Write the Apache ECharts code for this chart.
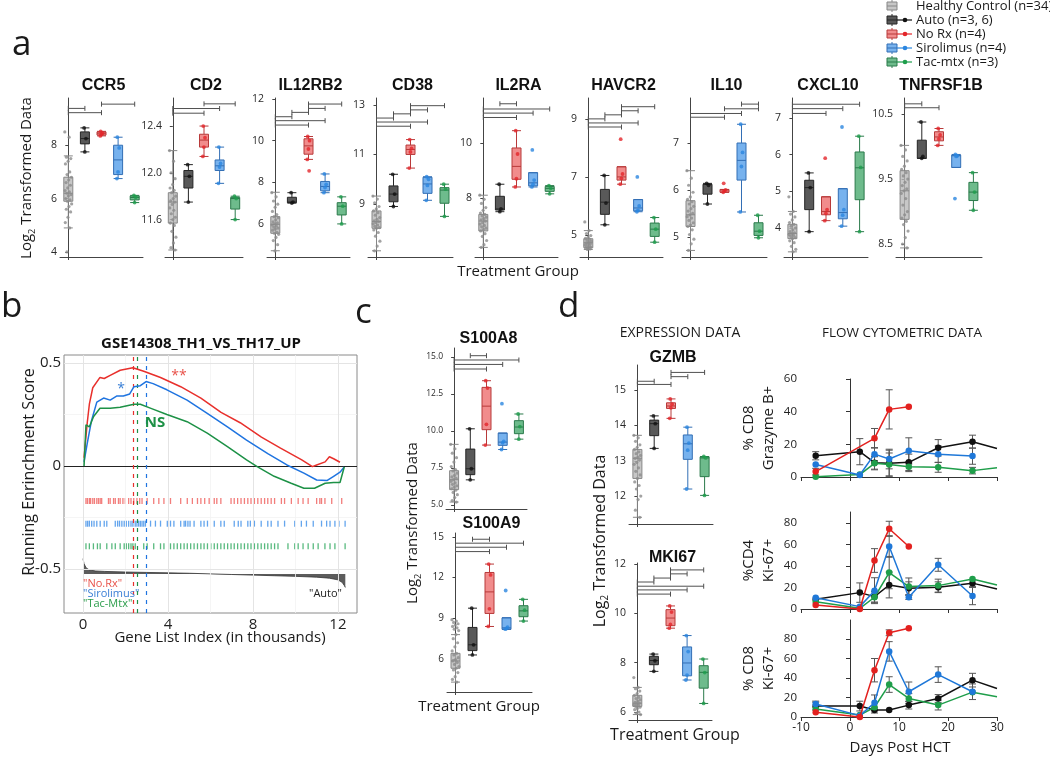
<!DOCTYPE html>
<html><head><meta charset="utf-8">
<script src="https://cdn.jsdelivr.net/npm/echarts@6/dist/echarts.min.js"></script>
<style>html,body{margin:0;padding:0;background:#fff}#c{width:1050px;height:757px}</style>
</head><body><div id="c"></div>
<script>
// ---------------- DATA ----------------
const groups = ['Healthy Control','Auto','No Rx','Sirolimus','Tac-mtx'];
const legendNames = ['Healthy Control (n=34)','Auto (n=3, 6)','No Rx (n=4)','Sirolimus (n=4)','Tac-mtx (n=3)'];

// box stats [min,Q1,median,Q3,max] per group; healthy points; other groups' points; significance brackets [from,to,y]
const ccr5Box = [[4.9,5.9,6.2,6.8,7.6],[7.75,8.05,8.25,8.5,8.65],[8.35,8.38,8.45,8.5,8.52],[6.75,6.9,7.45,8.0,8.3],[5.85,5.95,6.04,6.1,6.12]];
const ccr5Healthy = [8.5,8.3,7.55,7.5,7.4,7.3,7.0,6.9,6.8,6.7,6.6,6.5,6.4,6.3,6.25,6.2,6.15,6.1,6.0,5.95,5.9,5.8,5.7,5.6,5.5,5.3,5.1,4.9,4.0];
const ccr5Others = [[8.65,8.25,7.75],[8.52,8.45,8.4,8.35],[8.3,7.9,7.0,6.75],[6.12,6.05,5.85]];
const ccr5Sig = [[0,1,9.38],[0,2,9.22],[2,4,9.54]];
const ccr5Ticks = [4,6,8];

const cd2Box = [[11.34,11.57,11.75,11.83,12.19],[11.75,11.87,11.97,12.02,12.07],[12.14,12.22,12.28,12.33,12.4],[11.91,12.02,12.06,12.11,12.22],[11.6,11.69,11.78,11.79,11.8]];
const cd2Healthy = [12.19,12.1,12.0,11.95,11.9,11.87,11.85,11.83,11.8,11.78,11.76,11.75,11.73,11.7,11.68,11.65,11.62,11.6,11.57,11.55,11.5,11.45,11.4,11.36,11.34];
const cd2Others = [[12.07,11.97,11.75],[12.4,12.3,12.22,12.14],[12.22,12.08,12.05,11.91],[11.8,11.78,11.6]];
const cd2Sig = [[0,2,12.51],[0,3,12.55],[2,4,12.59]];
const cd2Ticks = [11.6,12.0,12.4];

const il12rb2Box = [[4.71,5.55,5.98,6.35,7.52],[7.0,7.02,7.05,7.28,7.5],[9.1,9.35,9.75,10.09,10.2],[7.5,7.59,7.8,8.04,8.4],[6.0,6.43,6.85,7.02,7.3]];
const il12rb2Healthy = [7.5,7.3,7.1,6.95,6.8,6.6,6.45,6.35,6.3,6.2,6.1,6.05,6.0,5.95,5.9,5.85,5.8,5.75,5.7,5.6,5.55,5.5,5.35,5.2,5.0,4.7];
const il12rb2Others = [[7.5,7.05,7.0],[10.2,10.0,9.6,9.1,8.55],[8.4,7.9,7.75,7.5],[7.3,6.85,6.0]];
const il12rb2Sig = [[2,4,11.76],[2,3,11.55],[1,2,11.36],[0,1,11.15],[0,3,10.96],[0,2,10.75]];
const il12rb2Ticks = [6,8,10,12];

const cd38Box = [[7.11,8.02,8.29,8.72,9.32],[8.9,9.09,9.4,9.73,10.2],[10.45,11.0,11.2,11.38,11.6],[9.15,9.43,9.81,10.08,10.1],[8.5,9.03,9.56,9.66,9.8]];
const cd38Healthy = [9.32,9.2,9.05,8.9,8.8,8.72,8.65,8.55,8.45,8.38,8.32,8.29,8.25,8.2,8.15,8.1,8.05,8.02,7.95,7.85,7.7,7.5,7.3,7.11];
const cd38Others = [[10.2,9.4,8.9],[11.6,11.25,11.1,10.45],[10.1,10.0,9.75,9.15],[9.8,9.6,8.5]];
const cd38Sig = [[2,4,12.97],[2,3,12.8],[1,2,12.64],[0,1,12.47],[0,3,12.31],[0,2,12.14]];
const cd38Ticks = [9,11,13];

const il2raBox = [[6.2,6.8,7.16,7.4,8.1],[7.5,7.56,7.6,8.06,8.5],[8.4,8.68,9.15,9.82,10.45],[8.4,8.44,8.55,8.92,8.92],[8.15,8.24,8.35,8.42,8.45]];
const il2raHealthy = [8.1,7.95,7.8,7.65,7.55,7.45,7.4,7.35,7.3,7.25,7.2,7.16,7.1,7.05,7.0,6.95,6.9,6.85,6.8,6.7,6.6,6.45,6.3,6.2];
const il2raOthers = [[8.5,7.6,7.5],[10.45,9.6,8.7,8.4],[9.75,8.65,8.5,8.4],[8.45,8.35,8.15]];
const il2raSig = [[1,2,11.43],[0,4,11.24],[0,3,11.09],[0,2,10.93]];
const il2raTicks = [8,10];

const havcr2Box = [[4.5,4.56,4.73,4.87,5.15],[5.35,5.71,6.13,6.57,7.05],[6.75,6.89,7.0,7.35,7.35],[5.8,5.83,5.93,6.22,6.22],[4.75,4.95,5.2,5.41,5.6]];
const havcr2Healthy = [5.45,5.15,5.05,4.98,4.92,4.88,4.85,4.82,4.78,4.75,4.73,4.7,4.68,4.65,4.62,4.6,4.58,4.56,4.54,4.52,4.5];
const havcr2Others = [[7.05,6.1,5.35],[8.3,7.1,6.95,6.75],[7.0,6.0,5.85,5.8],[5.6,5.2,4.75]];
const havcr2Sig = [[2,4,9.42],[2,3,9.28],[1,2,9.14],[0,1,9.0],[0,3,8.86],[0,2,8.72]];
const havcr2Ticks = [5,7,9];

const il10Box = [[4.71,5.22,5.47,5.77,6.41],[5.7,5.91,6.12,6.12,6.14],[5.95,5.95,6.0,6.01,6.01],[5.53,6.21,6.63,7.0,7.4],[4.98,5.03,5.12,5.3,5.46]];
const il10Healthy = [6.41,6.25,6.1,5.95,5.85,5.8,5.75,5.7,5.65,5.6,5.55,5.5,5.47,5.43,5.4,5.35,5.3,5.25,5.22,5.15,5.05,4.95,4.85,4.71];
const il10Others = [[6.14,6.1,5.7],[6.14,6.0,5.98,5.95],[7.4,6.8,6.5,5.53],[5.46,5.12,4.98]];
const il10Sig = [[3,4,7.83],[2,4,7.73],[0,3,7.63],[0,2,7.55]];
const il10Ticks = [5,6,7];

const cxcl10Box = [[3.35,3.71,3.85,4.1,4.45],[3.9,4.5,5.1,5.3,5.5],[4.2,4.36,4.45,4.85,4.85],[4.05,4.25,4.42,5.07,5.07],[3.9,4.77,5.64,6.07,6.5]];
const cxcl10Healthy = [4.85,4.45,4.38,4.3,4.22,4.15,4.1,4.05,4.0,3.95,3.9,3.87,3.85,3.82,3.8,3.77,3.74,3.71,3.65,3.6,3.5,3.42,3.35];
const cxcl10Others = [[5.5,5.1,3.9],[5.9,4.5,4.4,4.2],[6.75,4.5,4.35,4.05],[6.5,5.65,3.9]];
const cxcl10Sig = [[0,4,7.37],[0,3,7.25],[0,2,7.12]];
const cxcl10Ticks = [4,5,6,7];

const tnfBox = [[8.44,8.88,9.32,9.63,10.02],[9.82,9.82,9.82,10.1,10.38],[10.02,10.09,10.15,10.23,10.28],[9.68,9.68,9.86,9.87,9.88],[9.02,9.17,9.3,9.45,9.6]];
const tnfHealthy = [10.02,9.95,9.85,9.78,9.7,9.65,9.6,9.55,9.5,9.45,9.4,9.35,9.32,9.28,9.2,9.1,9.0,8.95,8.9,8.85,8.8,8.7,8.6,8.5,8.44];
const tnfOthers = [[10.38,9.85,9.82],[10.28,10.18,10.12,10.02],[9.88,9.86,9.85,9.2],[9.6,9.3,9.02]];
const tnfSig = [[0,1,10.66],[0,2,10.6]];
const tnfTicks = [8.5,9.5,10.5];

const s100a8Box = [[5.2,6.04,6.71,7.32,9.1],[6.7,7.05,7.45,8.78,10.15],[9.05,10.09,11.68,12.95,13.4],[8.75,9.03,9.25,9.86,9.86],[9.45,9.82,10.27,10.7,11.15]];
const s100a8Healthy = [9.1,8.8,8.5,8.2,7.9,7.6,7.4,7.3,7.15,7.0,6.9,6.8,6.71,6.6,6.5,6.4,6.3,6.2,6.1,6.0,5.85,5.7,5.5,5.3,5.2];
const s100a8Others = [[10.15,7.45,6.7],[13.4,12.9,10.45,9.05],[11.85,9.3,9.2,8.75],[11.15,10.3,9.45]];
const s100a8Sig = [[1,2,15.09],[0,4,14.8],[0,3,14.5],[0,2,14.19]];
const s100a8Ticks = [5,7.5,10,12.5,15];

const s100a9Box = [[4.3,5.32,5.86,6.42,7.8],[6.3,6.62,7.05,8.33,9.75],[8.4,9.36,10.95,12.38,13.0],[8.19,8.19,8.3,9.04,9.04],[8.8,9.12,9.55,9.93,10.4]];
const s100a9Healthy = [8.9,8.8,8.7,8.6,8.5,8.4,8.3,8.2,8.1,7.8,7.5,7.2,6.9,6.6,6.42,6.3,6.1,5.95,5.86,5.75,5.6,5.45,5.32,5.2,5.0,4.7,4.5,4.3];
const s100a9Others = [[9.75,7.05,6.3],[13.0,12.2,9.7,8.4],[11.05,8.35,8.25,8.2],[10.4,9.6,8.8]];
const s100a9Sig = [[1,2,14.83],[0,4,14.54],[0,3,14.24],[0,2,13.92]];
const s100a9Ticks = [6,9,12,15];

const gzmbBox = [[11.4,12.5,13.07,13.32,13.72],[13.35,13.71,14.05,14.15,14.27],[14.2,14.48,14.55,14.64,14.75],[12.2,13.04,13.48,13.73,13.95],[12.02,12.55,13.08,13.11,13.12]];
const gzmbHealthy = [13.72,13.65,13.55,13.45,13.38,13.32,13.25,13.2,13.15,13.1,13.07,13.02,12.95,12.9,12.8,12.7,12.6,12.5,12.4,12.3,12.2,12.0,11.9,11.6,11.4];
const gzmbOthers = [[14.27,14.05,13.35],[14.75,14.6,14.5,14.2],[13.95,13.5,13.3,12.2],[13.12,13.08,12.02]];
const gzmbSig = [[2,4,15.5],[2,3,15.38],[0,1,15.25],[0,2,15.16]];
const gzmbTicks = [12,13,14,15];

const mki67Box = [[5.9,6.23,6.36,6.68,7.0],[7.65,7.92,8.09,8.26,8.35],[9.4,9.5,9.81,10.15,10.3],[7.3,7.47,7.99,8.64,9.1],[6.35,6.97,7.61,7.88,8.15]];
const mki67Healthy = [7.4,7.0,6.95,6.85,6.75,6.68,6.6,6.55,6.5,6.45,6.4,6.36,6.33,6.3,6.27,6.23,6.2,6.15,6.1,6.0,5.95,5.9];
const mki67Others = [[8.35,8.08,7.65],[10.3,10.05,9.55,9.4],[9.1,8.45,7.5,7.3],[8.15,7.6,6.35]];
const mki67Sig = [[2,4,11.76],[2,3,11.6],[1,2,11.43],[0,1,11.27],[0,4,11.1],[0,3,10.95],[0,2,10.78]];
const mki67Ticks = [6,8,10,12];

// GSEA running enrichment score (x in thousands)
const noRxES = [[0.05,0.04],[0.2,0.21],[0.3,0.30],[0.46,0.38],[0.8,0.43],[1.0,0.425],[1.28,0.44],[1.75,0.465],[2.35,0.477],[2.86,0.46],[3.65,0.43],[4.6,0.385],[5.55,0.33],[6.5,0.26],[7.4,0.21],[8.4,0.14],[9.3,0.087],[10.3,0.03],[10.8,-0.003],[11.0,0.005],[11.4,0.02],[11.6,0.045],[11.8,0.035],[12.1,0.018]];
const sirES = [[0.05,0.02],[0.2,0.11],[0.4,0.22],[0.65,0.31],[0.97,0.33],[1.28,0.32],[1.6,0.34],[1.9,0.34],[2.2,0.35],[2.4,0.385],[2.7,0.39],[2.97,0.41],[3.3,0.40],[3.95,0.37],[4.9,0.32],[5.85,0.256],[6.8,0.19],[7.7,0.126],[8.7,0.06],[9.6,0.005],[10.4,-0.035],[11.0,-0.068],[11.5,-0.07],[11.8,-0.05],[12.1,-0.03],[12.3,-0.005]];
const tacES = [[0.05,0.0],[0.14,0.2],[0.3,0.19],[0.5,0.24],[0.8,0.28],[1.28,0.28],[1.75,0.285],[2.4,0.30],[2.7,0.30],[3.2,0.28],[3.95,0.25],[4.9,0.215],[5.85,0.16],[6.8,0.094],[7.7,0.03],[8.2,-0.003],[9.0,-0.05],[9.8,-0.084],[10.4,-0.108],[10.9,-0.108],[11.4,-0.084],[11.8,-0.08],[12.1,-0.08],[12.3,-0.005]];
const esPeaks = [2.37, 2.97, 2.57]; // No.Rx, Sirolimus, Tac-Mtx leading-edge positions
const noRxHits = [0.14,0.21,0.30,0.36,0.46,0.54,0.65,0.73,0.81,0.88,1.20,1.28,1.44,1.52,1.67,1.75,1.88,1.99,2.15,2.26,2.39,2.54,2.67,2.78,3.02,3.33,3.57,3.81,4.12,4.60,4.91,5.15,5.39,5.55,5.73,5.94,6.18,6.30,6.49,6.97,7.12,7.28,7.44,7.60,7.76,7.91,8.07,8.23,8.39,8.55,8.70,8.86,9.02,9.34,9.49,9.81,10.13,10.36,10.60,11.00,11.15,11.23,11.39,11.71,12.18];
const sirHits = [0.14,0.22,0.30,0.41,0.52,0.65,0.81,1.0,1.12,1.52,1.63,1.72,1.83,1.94,2.04,2.15,2.26,2.35,2.46,2.54,2.62,2.70,2.78,2.86,2.94,3.18,3.41,3.65,3.97,4.12,4.28,4.60,4.76,4.83,4.94,5.04,5.23,5.55,5.70,5.86,6.18,6.49,6.65,7.12,7.31,7.44,7.76,7.88,8.07,8.39,8.70,8.86,9.18,9.49,9.97,10.28,10.52,10.84,11.23,11.47,11.63,11.86,12.05,12.34];
const tacHits = [0.14,0.30,0.49,0.68,0.81,1.12,1.36,1.52,1.75,1.94,2.04,2.15,2.26,2.35,2.46,2.86,3.02,3.33,3.65,3.81,4.12,4.28,4.44,4.60,4.76,4.91,5.07,5.23,5.39,5.55,5.70,5.86,6.02,6.18,6.33,6.49,6.65,6.81,6.97,7.12,7.28,7.44,7.60,7.76,7.91,8.07,8.23,8.39,8.55,8.70,8.86,9.02,9.18,9.65,9.97,10.13,10.36,10.60,10.84,11.07,11.39,11.63,11.86,12.34];
const rugLevels = [-0.17, -0.28, -0.39];
const rankMetric = [[0,-0.45],[0.05,-0.475],[0.15,-0.495],[0.3,-0.505],[0.6,-0.51],[1,-0.512],[2,-0.515],[3,-0.517],[4,-0.519],[5,-0.521],[6,-0.524],[7,-0.527],[8,-0.53],[9,-0.533],[10,-0.536],[11,-0.54],[11.6,-0.545],[12,-0.553],[12.2,-0.565],[12.3,-0.58],[12.35,-0.59]];
const rankBaseline = -0.525;

// Flow cytometry [day, mean] and errors [day, sem]
const autoGzb = [[-7,13],[2,15.5],[5,8.8],[8,8.4],[12,9],[18,17.9],[25,21.6],[30,17.5]];
const noRxGzb = [[-7,3.3],[5,23.7],[8,41.4],[12,43]];
const sirGzb = [[-7,7.7],[2,1.2],[5,14],[8,11],[12,16],[18,14],[25,12.8]];
const tacGzb = [[-7,0.2],[2,1.5],[5,8.4],[8,7.7],[12,6.3],[18,5.9],[25,3.9],[30,5.7]];
const autoGzbErr = [[-7,2.5],[2,8],[5,4],[8,8],[12,5],[18,5],[25,4]];
const noRxGzbErr = [[-7,2],[5,6],[8,12]];
const sirGzbErr = [[5,4],[8,6],[12,8],[18,5],[25,5]];
const tacGzbErr = [[5,4],[8,7],[12,3],[18,3],[25,2]];

const autoCd4 = [[-7,9],[2,15.2],[5,11.5],[8,22.3],[12,19.2],[18,20.2],[25,24],[30,18.6]];
const noRxCd4 = [[-7,3.7],[2,0],[5,45],[8,74.4],[12,58]];
const sirCd4 = [[-7,10.5],[2,2.2],[5,17],[8,58],[12,10.9],[18,41],[25,12]];
const tacCd4 = [[-7,6.8],[2,0.6],[5,10.9],[8,33.8],[12,20.8],[18,21.7],[25,27.9],[30,22.3]];
const autoCd4Err = [[2,9],[5,5],[8,12],[12,6],[18,5],[25,3]];
const noRxCd4Err = [[5,11],[8,7]];
const sirCd4Err = [[5,12],[8,10],[12,2],[18,6],[25,8]];
const tacCd4Err = [[5,5],[8,15],[12,8],[18,6]];

const autoCd8 = [[-7,11.2],[2,11.2],[5,7.1],[8,7.1],[12,12.2],[18,19],[25,37.8],[30,29.3]];
const noRxCd8 = [[-7,4.8],[2,0],[5,48],[8,86.4],[12,91]];
const sirCd8 = [[-7,13.3],[2,1.4],[5,14.6],[8,67.3],[12,25.9],[18,43.5],[25,25.9]];
const tacCd8 = [[-7,8.2],[2,2.0],[5,10],[8,33.3],[12,19],[18,12.2],[25,25.5],[30,20.8]];
const autoCd8Err = [[-7,4],[2,5],[5,3],[12,4],[18,4],[25,7]];
const noRxCd8Err = [[5,12],[8,3]];
const sirCd8Err = [[-7,3],[5,8],[8,10],[12,10],[18,8],[25,8]];
const tacCd8Err = [[8,8],[12,5],[18,5]];

// ---------------- STYLE ----------------
const FONT = 'Open Sans';
const TFONT = 'Liberation Sans';
const fills = ['rgba(185,185,185,0.8)','rgba(80,80,80,0.95)','rgba(238,120,120,0.85)','rgba(95,165,235,0.85)','rgba(85,175,120,0.85)'];
const borders = ['#878787','#262626','#b83a3a','#336fb5','#2b7a4b'];
const dotColors = ['#8c8c8c','#111111','#e3262a','#2b86e0','#1e9e4c'];
const flowColors = ['#111111','#1f9e4a','#1f78d8','#e3211f'];

const grids=[], xAxes=[], yAxes=[], series=[], graphics=[];
function jit(i){ return ((i*0.61803398875)%1) - 0.5; }

function renderBracket(params, api){
  const y = api.value(2);
  const a = api.coord([api.value(0), y]);
  const b = api.coord([api.value(1), y]);
  const st = {stroke:'#505050', lineWidth:1};
  return {type:'group', children:[
    {type:'line', shape:{x1:a[0],y1:a[1],x2:b[0],y2:b[1]}, style:st},
    {type:'line', shape:{x1:a[0],y1:a[1]-2.5,x2:a[0],y2:a[1]+2.5}, style:st},
    {type:'line', shape:{x1:b[0],y1:b[1]-2.5,x2:b[0],y2:b[1]+2.5}, style:st}
  ]};
}
function renderErr(params, api){
  const x = api.value(0);
  const lo = api.coord([x, api.value(1)]);
  const hi = api.coord([x, api.value(2)]);
  const st = {stroke:'#555', lineWidth:1};
  return {type:'group', children:[
    {type:'line', shape:{x1:lo[0],y1:lo[1],x2:hi[0],y2:hi[1]}, style:st},
    {type:'line', shape:{x1:lo[0]-3.5,y1:lo[1],x2:lo[0]+3.5,y2:lo[1]}, style:st},
    {type:'line', shape:{x1:hi[0]-3.5,y1:hi[1],x2:hi[0]+3.5,y2:hi[1]}, style:st}
  ]};
}
function text(x,y,t,o){
  o = o||{};
  graphics.push({type:'text', x:x, y:y, rotation:o.rot||0, z:100, silent:true,
    style:{text:t, fontSize:o.fs||14, fontWeight:o.fw||'normal', fontFamily:o.ff||FONT, fill:o.color||'#1a1a1a',
      align:o.align||'center', verticalAlign:o.va||'middle', rich:o.rich}});
}
function logLabel(x,y,fs){
  text(x,y,'{a|Log}{b|2}{a| Transformed Data}',{rot:Math.PI/2, fs:fs,
    rich:{a:{fontSize:fs, fontFamily:FONT, fill:'#1a1a1a', lineHeight:fs+4}, b:{fontSize:fs*0.62, fontFamily:FONT, fill:'#1a1a1a', lineHeight:fs*0.6, verticalAlign:'bottom'}}});
}

function addBoxPanel(p){
  const g = grids.length;
  grids.push({left:p.x, top:p.top, width:p.w, height:p.h});
  const xc = xAxes.length;
  xAxes.push({type:'category', gridIndex:g, data:groups, axisLabel:{show:false},
    axisTick:{show:true, alignWithLabel:true, length:3, lineStyle:{color:'#444'}},
    axisLine:{lineStyle:{color:'#444', width:1}}, splitLine:{show:false}});
  const xv = xAxes.length;
  xAxes.push({type:'value', gridIndex:g, min:-0.5, max:4.5, show:false, splitLine:{show:false}});
  const yi = yAxes.length;
  yAxes.push({type:'value', gridIndex:g, min:p.min, max:p.max,
    axisLine:{show:true, lineStyle:{color:'#444', width:1}},
    axisTick:{show:true, length:3, customValues:p.ticks, lineStyle:{color:'#444'}},
    axisLabel:{customValues:p.ticks, fontSize:p.fs, color:'#2a2a2a', fontFamily:FONT, margin:3, formatter:v=>Number(v).toFixed(p.dec)},
    splitLine:{show:false}});
  series.push({type:'boxplot', xAxisIndex:xc, yAxisIndex:yi, boxWidth:[9,9], silent:true, z:2,
    data:p.box.map((b,i)=>({value:b, itemStyle:{color:fills[i], borderColor:borders[i], borderWidth:1}}))});
  const pts = p.healthy.map((v,i)=>({value:[jit(i)*0.42, v], symbolSize:3.2, itemStyle:{color:dotColors[0], opacity:0.8}}));
  p.others.forEach((arr,k)=>arr.forEach((v,i)=>pts.push({value:[k+1+jit(i+2)*0.18, v], symbolSize:3.8, itemStyle:{color:dotColors[k+1]}})));
  series.push({type:'scatter', xAxisIndex:xv, yAxisIndex:yi, data:pts, silent:true, z:3});
  series.push({type:'custom', xAxisIndex:xv, yAxisIndex:yi, data:p.sig, renderItem:renderBracket, silent:true, z:4, encode:{x:[0,1], y:2}});
  text(p.x+p.w/2+2, p.titleY, p.name, {fs:16, fw:'bold', ff:TFONT, color:'#111'});
}

// panel a
const TY = 86;
[
 {name:'CCR5', box:ccr5Box, healthy:ccr5Healthy, others:ccr5Others, sig:ccr5Sig, ticks:ccr5Ticks, dec:0, x:60, w:83, min:3.81, max:9.77},
 {name:'CD2', box:cd2Box, healthy:cd2Healthy, others:cd2Others, sig:cd2Sig, ticks:cd2Ticks, dec:1, x:165, w:78, min:11.28, max:12.64},
 {name:'IL12RB2', box:il12rb2Box, healthy:il12rb2Healthy, others:il12rb2Others, sig:il12rb2Sig, ticks:il12rb2Ticks, dec:0, x:267, w:83, min:4.41, max:12.05},
 {name:'CD38', box:cd38Box, healthy:cd38Healthy, others:cd38Others, sig:cd38Sig, ticks:cd38Ticks, dec:0, x:368, w:85, min:6.86, max:13.28},
 {name:'IL2RA', box:il2raBox, healthy:il2raHealthy, others:il2raOthers, sig:il2raSig, ticks:il2raTicks, dec:0, x:475, w:83, min:5.85, max:11.64},
 {name:'HAVCR2', box:havcr2Box, healthy:havcr2Healthy, others:havcr2Others, sig:havcr2Sig, ticks:havcr2Ticks, dec:0, x:580, w:83, min:4.24, max:9.72},
 {name:'IL10', box:il10Box, healthy:il10Healthy, others:il10Others, sig:il10Sig, ticks:il10Ticks, dec:0, x:682, w:85, min:4.57, max:7.96},
 {name:'CXCL10', box:cxcl10Box, healthy:cxcl10Healthy, others:cxcl10Others, sig:cxcl10Sig, ticks:cxcl10Ticks, dec:0, x:784, w:84, min:3.21, max:7.54},
 {name:'TNFRSF1B', box:tnfBox, healthy:tnfHealthy, others:tnfOthers, sig:tnfSig, ticks:tnfTicks, dec:1, x:896, w:86, min:8.3, max:10.75}
].forEach(p=>{ p.top=98; p.h=159; p.fs=10.5; p.titleY=TY; addBoxPanel(p); });

// panel c
addBoxPanel({name:'S100A8', box:s100a8Box, healthy:s100a8Healthy, others:s100a8Others, sig:s100a8Sig, ticks:s100a8Ticks, dec:1, x:446, w:81, top:348, h:161, min:4.73, max:15.61, fs:8.5, titleY:339});
addBoxPanel({name:'S100A9', box:s100a9Box, healthy:s100a9Healthy, others:s100a9Others, sig:s100a9Sig, ticks:s100a9Ticks, dec:0, x:447, w:85, top:533, h:159, min:3.57, max:15.29, fs:10, titleY:524});
// panel d expression
addBoxPanel({name:'GZMB', box:gzmbBox, healthy:gzmbHealthy, others:gzmbOthers, sig:gzmbSig, ticks:gzmbTicks, dec:0, x:629, w:84, top:365, h:159, min:11.21, max:15.71, fs:10.5, titleY:358});
addBoxPanel({name:'MKI67', box:mki67Box, healthy:mki67Healthy, others:mki67Others, sig:mki67Sig, ticks:mki67Ticks, dec:0, x:629, w:83, top:563, h:157, min:5.68, max:12.04, fs:10.5, titleY:558});

// panel b: GSEA
(function(){
  const g = grids.length;
  grids.push({left:64, top:355, width:293, height:258, show:true, borderColor:'#8a8a8a', borderWidth:1, backgroundColor:'#fff'});
  const xi = xAxes.length;
  xAxes.push({type:'value', gridIndex:g, min:-0.894, max:12.9, axisLine:{show:false},
    axisTick:{show:true, customValues:[0,4,8,12], length:3, lineStyle:{color:'#888'}},
    axisLabel:{customValues:[0,4,8,12], fontSize:15, color:'#222', fontFamily:FONT, margin:4}, splitLine:{show:false}});
  const yi = yAxes.length;
  yAxes.push({type:'value', gridIndex:g, min:-0.714, max:0.539, axisLine:{show:false},
    axisTick:{show:true, customValues:[-0.5,0,0.5], length:3, lineStyle:{color:'#888'}},
    axisLabel:{customValues:[-0.5,0,0.5], fontSize:15, color:'#222', fontFamily:FONT, margin:3, formatter:v=>v===0?'0':String(v)},
    splitLine:{show:false}});
  const ml = (axis, v, color, w)=>({[axis]:v, lineStyle:{color:color, width:w, type:'solid'}});
  series.push({type:'line', xAxisIndex:xi, yAxisIndex:yi, data:[[0,0]], showSymbol:false, lineStyle:{opacity:0}, silent:true, z:1,
    markLine:{silent:true, symbol:'none', label:{show:false}, animation:false, data:[
      ...[2,6,10].map(v=>ml('xAxis',v,'#f3f3f3',0.8)), ...[-0.25,0.25].map(v=>ml('yAxis',v,'#f3f3f3',0.8)),
      ...[0,4,8,12].map(v=>ml('xAxis',v,'#e4e4e4',1)), ...[-0.5,0.5].map(v=>ml('yAxis',v,'#e4e4e4',1)),
      ml('yAxis',0,'#222',1)
    ]}});
  series.push({type:'line', xAxisIndex:xi, yAxisIndex:yi, data:rankMetric, showSymbol:false, silent:true, z:3,
    lineStyle:{color:'#333', width:0.8}, areaStyle:{color:'#4a4a4a', opacity:0.9, origin:rankBaseline}});
  const esCols = ['#e8302c','#1f74e0','#1d9146'];
  const rugCols = ['#ef5d5a','#3d8fe8','#2ea85e'];
  [noRxHits, sirHits, tacHits].forEach((h,k)=>{
    series.push({type:'scatter', xAxisIndex:xi, yAxisIndex:yi, data:h.map(v=>[v, rugLevels[k]]), symbol:'rect', symbolSize:[1.3,6],
      itemStyle:{color:rugCols[k]}, silent:true, z:4});
  });
  [noRxES, sirES, tacES].forEach((d,k)=>{
    series.push({type:'line', xAxisIndex:xi, yAxisIndex:yi, data:d, showSymbol:false, silent:true, z:5,
      lineStyle:{color:esCols[k], width:1.5},
      markLine:{silent:true, symbol:'none', label:{show:false}, animation:false,
        data:[{xAxis:esPeaks[k], lineStyle:{color:esCols[k], width:1.2, type:[4,5]}}]}});
  });
  text(201, 344, 'GSE14308_TH1_VS_TH17_UP', {fs:15, fw:'bold', color:'#111'});
  text(29, 472, 'Running Enrinchment Score', {fs:16, rot:Math.PI/2});
  text(220, 638, 'Gene List Index (in thousands)', {fs:15});
  text(121, 389, '*', {fs:14, color:'#3a7fd5'});
  text(179, 376, '**', {fs:14, color:'#e8524a'});
  text(155, 423, 'NS', {fs:15, fw:'bold', color:'#1d9146'});
  text(83, 584, '"No.Rx"', {fs:11, color:'#e8524a', align:'left'});
  text(83, 594, '"Sirolimus"', {fs:11, color:'#3a7fd5', align:'left'});
  text(83, 604, '"Tac-Mtx"', {fs:11, color:'#2a9d4a', align:'left'});
  text(342, 594, '"Auto"', {fs:11, color:'#222', align:'right'});
})();

// panel d: flow cytometry
function addFlow(p){
  const g = grids.length;
  grids.push({left:801, top:p.top, width:196, height:p.h});
  const xi = xAxes.length;
  xAxes.push({type:'value', gridIndex:g, min:-10, max:30, interval:10,
    axisLine:{onZero:false, lineStyle:{color:'#333'}}, axisTick:{length:4, lineStyle:{color:'#333'}},
    axisLabel:{show:p.showX, fontSize:12, color:'#222', fontFamily:FONT, margin:5}, splitLine:{show:false}});
  const yi = yAxes.length;
  yAxes.push({type:'value', gridIndex:g, min:0, max:p.max,
    axisLine:{show:true, lineStyle:{color:'#333'}}, axisTick:{show:true, length:4, customValues:p.ticks, lineStyle:{color:'#333'}},
    axisLabel:{customValues:p.ticks, fontSize:11.5, color:'#222', fontFamily:FONT, margin:4}, splitLine:{show:false}});
  const errData = [];
  p.errs.forEach((arr,k)=>arr.forEach(([d,e])=>{ const m = p.lines[k].find(q=>q[0]===d)[1]; errData.push([d, m-e, m+e]); }));
  series.push({type:'custom', xAxisIndex:xi, yAxisIndex:yi, data:errData, renderItem:renderErr, silent:true, z:3, encode:{x:0, y:[1,2]}});
  p.lines.forEach((ln,k)=>{
    series.push({type:'line', xAxisIndex:xi, yAxisIndex:yi, silent:true, z:4+k, clip:false,
      data:ln.map(d=>d[0]===30?{value:d, symbol:'none'}:{value:d}), symbol:'circle', symbolSize:6.5, showAllSymbol:true,
      lineStyle:{color:flowColors[k], width:1.5}, itemStyle:{color:flowColors[k]}});
  });
  text(749, p.top+p.h/2, p.lab1, {fs:15, rot:Math.PI/2});
  text(769, p.top+p.h/2, p.lab2, {fs:15, rot:Math.PI/2});
}
addFlow({top:379, h:98, max:60, ticks:[0,20,40,60], showX:false, lines:[autoGzb, tacGzb, sirGzb, noRxGzb], errs:[autoGzbErr, tacGzbErr, sirGzbErr, noRxGzbErr], lab1:'% CD8', lab2:'Grazyme B+'});
addFlow({top:512, h:97, max:90, ticks:[0,20,40,60,80], showX:false, lines:[autoCd4, tacCd4, sirCd4, noRxCd4], errs:[autoCd4Err, tacCd4Err, sirCd4Err, noRxCd4Err], lab1:'%CD4', lab2:'Ki-67+'});
addFlow({top:620, h:97, max:99.5, ticks:[0,20,40,60,80], showX:true, lines:[autoCd8, tacCd8, sirCd8, noRxCd8], errs:[autoCd8Err, tacCd8Err, sirCd8Err, noRxCd8Err], lab1:'% CD8', lab2:'Ki-67+'});

// shared labels
logLabel(27, 178, 15);
text(518, 272, 'Treatment Group', {fs:15});
logLabel(413, 523, 15);
text(479, 707, 'Treatment Group', {fs:15});
logLabel(600, 541, 16);
text(675, 735, 'Treatment Group', {fs:16});
text(680, 333, 'EXPRESSION DATA', {fs:14});
text(902, 333, 'FLOW CYTOMETRIC DATA', {fs:13.5});
text(900, 748, 'Days Post HCT', {fs:15});
// panel letters
text(12, 45, 'a', {fs:35, align:'left'});
text(1, 307, 'b', {fs:35, align:'left'});
text(355, 313, 'c', {fs:35, align:'left'});
text(558, 307, 'd', {fs:35, align:'left'});

// legend
legendNames.forEach((n,i)=>{
  const y = 6 + 14*i;
  graphics.push({type:'rect', shape:{x:887, y:y-4, width:10, height:8}, style:{fill:fills[i], stroke:borders[i], lineWidth:1}, z:100});
  graphics.push({type:'line', shape:{x1:887, y1:y, x2:897, y2:y}, style:{stroke:borders[i], lineWidth:1}, z:100});
  graphics.push({type:'line', shape:{x1:892, y1:y-6, x2:892, y2:y-4}, style:{stroke:borders[i], lineWidth:1}, z:100});
  graphics.push({type:'line', shape:{x1:892, y1:y+4, x2:892, y2:y+6}, style:{stroke:borders[i], lineWidth:1}, z:100});
  if(i>0){
    graphics.push({type:'line', shape:{x1:897, y1:y, x2:912, y2:y}, style:{stroke:dotColors[i], lineWidth:1.2}, z:100});
    graphics.push({type:'circle', shape:{cx:905, cy:y, r:2.3}, style:{fill:dotColors[i]}, z:100});
  }
  text(916, y, n, {fs:13, align:'left', color:'#1a1a1a'});
});

const chart = echarts.init(document.getElementById('c'));
chart.setOption({animation:false, backgroundColor:'#fff', grid:grids, xAxis:xAxes, yAxis:yAxes, series:series, graphic:graphics});
</script></body></html>
